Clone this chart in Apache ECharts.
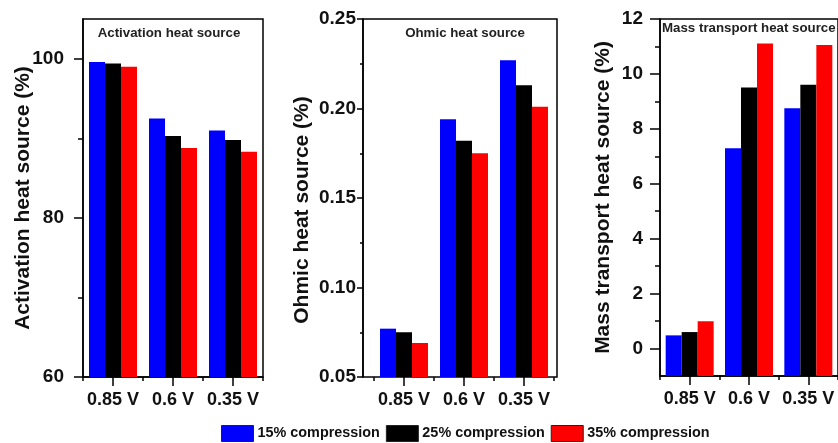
<!DOCTYPE html>
<html>
<head>
<meta charset="utf-8">
<title>Heat source contributions by compression</title>
<script src="https://cdn.jsdelivr.net/npm/echarts@6/dist/echarts.min.js"></script>
<style>
  html, body { margin: 0; padding: 0; background: #fff; }
  #chart { width: 838px; height: 443px; }
</style>
</head>
<body>
<div id="chart"></div>
<script>
// Operating voltages and compression ratios
const categories = ['0.85 V', '0.6 V', '0.35 V'];
const seriesNames = ['15% compression', '25% compression', '35% compression'];
const seriesColors = ['#0000ff', '#000000', '#ff0000'];

// Activation heat source share (%)
const activation15 = [99.6, 92.5, 91.0];
const activation25 = [99.4, 90.3, 89.8];
const activation35 = [99.0, 88.8, 88.3];

// Ohmic heat source share (%)
const ohmic15 = [0.077, 0.194, 0.227];
const ohmic25 = [0.075, 0.182, 0.213];
const ohmic35 = [0.069, 0.175, 0.201];

// Mass transport heat source share (%)
const mass15 = [0.48, 7.29, 8.75];
const mass25 = [0.60, 9.51, 9.61];
const mass35 = [0.99, 11.11, 11.05];

// Axis ticks
const activationTicks = [60, 80, 100];
const activationMinorTicks = [70, 90];
const ohmicTicks = [0.05, 0.10, 0.15, 0.20, 0.25];
const massTicks = [0, 2, 4, 6, 8, 10, 12];
const massMinorTicks = [1, 3, 5, 7, 9, 11];

const FONT = '"Liberation Sans", Arial, sans-serif';
const INK = '#111';
const LINE = { lineStyle: { color: '#000', width: 1.5 } };

const chart = echarts.init(document.getElementById('chart'), null, { renderer: 'canvas' });

function catAxis(gridIndex, showLine) {
  return {
    type: 'category', gridIndex, position: 'bottom', data: categories,
    axisLine: { show: showLine, onZero: false, ...LINE },
    axisTick: { show: true, alignWithLabel: true, inside: false, length: 9, lineStyle: { color: '#000', width: 1.5 } },
    axisLabel: { interval: 0, margin: 14, color: INK, fontSize: 18, fontWeight: 'bold', fontFamily: FONT },
    splitLine: { show: false }
  };
}
function boundaryAxis(gridIndex) {
  return {
    type: 'category', gridIndex, position: 'bottom', data: categories,
    axisLine: { show: false, onZero: false },
    axisTick: { show: true, interval: 0, length: 4, lineStyle: { color: '#000', width: 1.5 } },
    axisLabel: { show: false },
    splitLine: { show: false }
  };
}
function yName(text, gap, padding) {
  return {
    name: text, nameLocation: 'middle', nameGap: gap, nameRotate: 90, nameMoveOverlap: false,
    nameTextStyle: { fontSize: 21, fontWeight: 'bold', color: INK, fontFamily: FONT, padding: padding || 0 }
  };
}
function minorAxis(gridIndex, min, max, values, length) {
  return {
    type: 'value', gridIndex, position: 'left', min, max,
    axisLine: { show: false },
    axisTick: { show: true, length, customValues: values, lineStyle: { color: '#000', width: 1.5 } },
    axisLabel: { show: false },
    splitLine: { show: false }
  };
}
function bars(data, i, xAxisIndex, yAxisIndex) {
  return {
    type: 'bar', name: seriesNames[i], data, xAxisIndex, yAxisIndex,
    barWidth: 16, barGap: '0%',
    itemStyle: { color: seriesColors[i] },
    clip: true
  };
}

const labelStyle = { color: INK, fontSize: 19, fontWeight: 'bold', fontFamily: FONT };
const titleStyle = { fontSize: 13.3, fontWeight: 'bold', color: '#222', fontFamily: FONT };

const option = {
  backgroundColor: '#fff',
  animation: false,
  title: [
    { text: 'Activation heat source', left: 169, top: 27, padding: 0, textAlign: 'center', textStyle: titleStyle },
    { text: 'Ohmic heat source', left: 465, top: 27, padding: 0, textAlign: 'center', textStyle: titleStyle },
    { text: 'Mass transport heat source', left: 662, top: 22, padding: 0, textAlign: 'left', textStyle: titleStyle }
  ],
  legend: {
    data: seriesNames, left: 221, top: 425, padding: 0,
    itemWidth: 32, itemHeight: 16, itemGap: 6,
    icon: 'rect',
    itemStyle: { borderColor: '#222', borderWidth: 1 },
    textStyle: { fontSize: 14.4, fontWeight: 'bold', color: INK, fontFamily: FONT, padding: [0, 0, 0, -1] }
  },
  grid: [
    // activation panel
    { left: 83, top: 19, width: 180, height: 358, show: true, borderColor: '#000', borderWidth: 1.5, backgroundColor: 'transparent' },
    // ohmic panel frame
    { left: 363, top: 19, width: 194, height: 358, show: true, borderColor: '#000', borderWidth: 1.5, backgroundColor: 'transparent' },
    // ohmic panel bars
    { left: 374, top: 19, width: 180, height: 358, show: false },
    // mass transport panel
    { left: 660, top: 19, width: 180, height: 357, show: true, borderColor: '#000', borderWidth: 1.5, backgroundColor: 'transparent' }
  ],
  xAxis: [
    catAxis(0, true),                 // 0
    boundaryAxis(0),                  // 1
    { type: 'value', gridIndex: 1, show: false, min: 0, max: 1 }, // 2
    catAxis(2, false),                // 3
    boundaryAxis(2),                  // 4
    catAxis(3, true),                 // 5
    boundaryAxis(3)                   // 6
  ],
  yAxis: [
    Object.assign({
      type: 'value', gridIndex: 0, position: 'left', min: 60, max: 105, startValue: 60,
      axisLine: { show: true, ...LINE },
      axisTick: { show: true, length: 9, customValues: activationTicks, lineStyle: { color: '#000', width: 1.5 } },
      axisLabel: { margin: 19, customValues: activationTicks, ...labelStyle },
      splitLine: { show: false }
    }, yName('Activation heat source (%)', 49)),                    // 0
    minorAxis(0, 60, 105, activationMinorTicks, 5),                 // 1
    Object.assign({
      type: 'value', gridIndex: 1, position: 'left', min: 0.05, max: 0.25, interval: 0.05,
      axisLine: { show: true, ...LINE },
      axisTick: { show: true, length: 6, lineStyle: { color: '#000', width: 1.5 } },
      minorTick: { show: true, splitNumber: 2, length: 3, lineStyle: { color: '#000', width: 1.5 } },
      axisLabel: { margin: 7, formatter: v => v.toFixed(2), ...labelStyle },
      splitLine: { show: false }
    }, yName('Ohmic heat source (%)', 50, [0, 24, 0, 0])),          // 2
    { type: 'value', gridIndex: 2, show: false, min: 0.05, max: 0.25, startValue: 0.05 }, // 3
    Object.assign({
      type: 'value', gridIndex: 3, position: 'left', min: -1, max: 12, startValue: -1,
      axisLine: { show: true, ...LINE },
      axisTick: { show: true, length: 10, customValues: massTicks, lineStyle: { color: '#000', width: 1.5 } },
      axisLabel: { margin: 17, customValues: massTicks, ...labelStyle },
      splitLine: { show: false }
    }, yName('Mass transport heat source (%)', 46)),                // 4
    minorAxis(3, -1, 12, massMinorTicks, 5)                         // 5
  ],
  series: [
    bars(activation15, 0, 0, 0),
    bars(activation25, 1, 0, 0),
    bars(activation35, 2, 0, 0),
    bars(ohmic15, 0, 3, 3),
    bars(ohmic25, 1, 3, 3),
    bars(ohmic35, 2, 3, 3),
    bars(mass15, 0, 5, 4),
    bars(mass25, 1, 5, 4),
    bars(mass35, 2, 5, 4)
  ]
};

chart.setOption(option);
</script>
</body>
</html>
